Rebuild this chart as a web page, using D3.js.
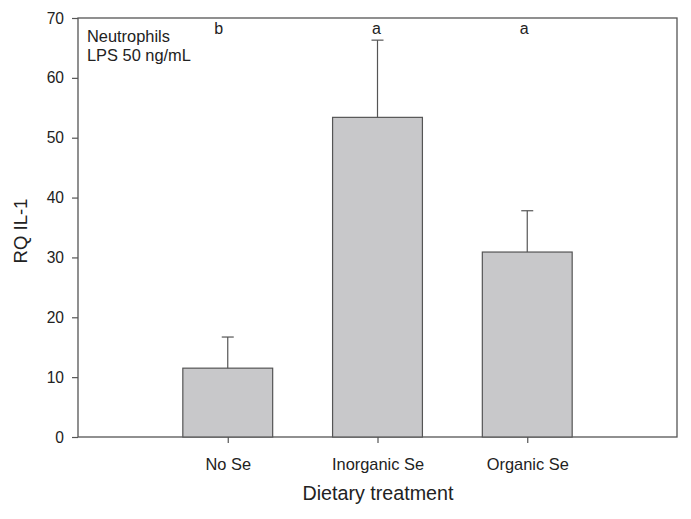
<!DOCTYPE html>
<html><head><meta charset="utf-8">
<script src="https://cdn.jsdelivr.net/npm/d3@7"></script>
<style>body{margin:0;background:#fff;} text{font-family:Arial,"Liberation Sans",sans-serif;}</style>
</head><body>
<script>
const categories = ["No Se", "Inorganic Se", "Organic Se"];
const values = [11.5, 53.4, 30.9];
const errors = [5.2, 12.9, 6.9];
const letters = ["b", "a", "a"];
const letterShift = [-9, -1, -3];
const yTicks = [0, 10, 20, 30, 40, 50, 60, 70];

const W = 691, H = 519;
const m = {left: 78, right: 14, top: 18, bottom: 82};
const svg = d3.select("body").append("svg").attr("width", W).attr("height", H);
const x = d3.scaleLinear().domain([0, 4]).range([m.left, W - m.right]);
const y = d3.scaleLinear().domain([0, 70]).range([H - m.bottom, m.top]);
const bw = 0.6;
const lc = "#555", tc = "#222";
const ff = "Arial, 'Liberation Sans', sans-serif";

// frame
svg.append("rect").attr("x", x(0)).attr("y", y(70)).attr("width", x(4) - x(0)).attr("height", y(0) - y(70))
  .attr("fill", "none").attr("stroke", lc).attr("stroke-width", 1.3);

// bars
svg.selectAll("rect.bar").data(values).enter().append("rect").attr("class", "bar")
  .attr("x", (d, i) => x(i + 1 - bw / 2)).attr("width", x(bw) - x(0))
  .attr("y", d => y(d)).attr("height", d => y(0) - y(d))
  .attr("fill", "#c8c8ca").attr("stroke", lc).attr("stroke-width", 1.2);

// error bars
const eg = svg.append("g").attr("stroke", lc).attr("stroke-width", 1.2);
values.forEach((v, i) => {
  const cx = x(i + 1);
  eg.append("line").attr("x1", cx).attr("x2", cx).attr("y1", y(v)).attr("y2", y(v + errors[i]));
  eg.append("line").attr("x1", cx - 6).attr("x2", cx + 6).attr("y1", y(v + errors[i])).attr("y2", y(v + errors[i]));
});

// y axis
const ya = svg.append("g").attr("transform", `translate(${x(0)},0)`)
  .call(d3.axisLeft(y).tickValues(yTicks).tickSize(6).tickPadding(8).tickFormat(d3.format("d")));
ya.select(".domain").remove();
ya.attr("font-size", null).attr("font-family", null);
ya.selectAll("line").attr("stroke", lc).attr("stroke-width", 1.2);
ya.selectAll("text").attr("fill", tc).style("font-size", "15.6px").style("font-family", ff);

// x axis
const xa = svg.append("g").attr("transform", `translate(0,${y(0)})`)
  .call(d3.axisBottom(x).tickValues([1, 2, 3]).tickSize(6).tickPadding(15).tickFormat(d => categories[d - 1]));
xa.select(".domain").remove();
xa.attr("font-size", null).attr("font-family", null);
xa.selectAll("line").attr("stroke", lc).attr("stroke-width", 1.2);
xa.selectAll("text").attr("fill", tc).style("font-size", "16.4px").style("font-family", ff);

// letters
svg.selectAll("text.lt").data(letters).enter().append("text").attr("class", "lt")
  .attr("x", (d, i) => x(i + 1) + letterShift[i]).attr("y", 34).attr("text-anchor", "middle")
  .attr("fill", tc).style("font-size", "16px").text(d => d);

// annotation
svg.append("text").attr("x", 87).attr("y", 41.5).attr("fill", tc).style("font-size", "16.4px").text("Neutrophils");
svg.append("text").attr("x", 87).attr("y", 60.5).attr("fill", tc).style("font-size", "16.4px").text("LPS 50 ng/mL");

// titles
svg.append("text").attr("x", 378).attr("y", 500).attr("text-anchor", "middle").attr("fill", tc)
  .style("font-size", "19.7px").text("Dietary treatment");
svg.append("text").attr("transform", `translate(27,231) rotate(-90)`).attr("text-anchor", "middle")
  .attr("fill", tc).style("font-size", "18.5px").text("RQ IL-1");
</script>
</body></html>
